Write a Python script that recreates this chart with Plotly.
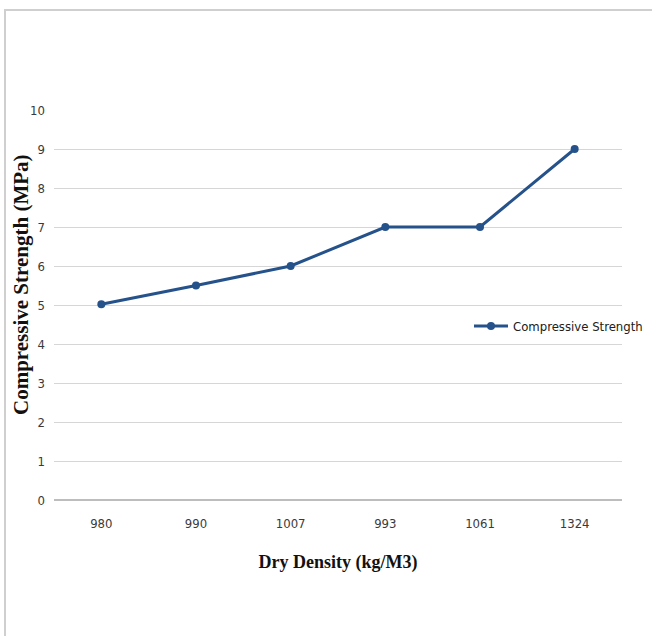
import plotly.graph_objects as go

# Dry density categories (kg/m3) and the measured compressive strength (MPa)
densities = ["980", "990", "1007", "993", "1061", "1324"]
strength = [5.02, 5.5, 6.0, 7.0, 7.0, 9.0]
y_ticks = [0, 1, 2, 3, 4, 5, 6, 7, 8, 9, 10]

line_color = "#25528a"
narrow = "DejaVu Sans Condensed, Open Sans, sans-serif"
serif = "Liberation Serif, Times New Roman, serif"
tick_font = dict(family=narrow, size=13, color="#3a3a3a")

W, H = 652, 636
L, R, T, B = 54, 30, 110, 136
PW, PH = W - L - R, H - T - B

fig = go.Figure()
fig.add_trace(go.Scatter(
    x=densities, y=strength, mode="lines+markers",
    name="Compressive Strength",
    line=dict(color=line_color, width=3),
    marker=dict(color=line_color, size=8, symbol="circle"),
))

fig.update_layout(
    width=W, height=H,
    margin=dict(l=L, r=R, t=T, b=B, autoexpand=False),
    paper_bgcolor="white", plot_bgcolor="white",
    showlegend=True,
    legend=dict(
        xref="container", yref="container",
        x=469 / W, y=1 - 326 / H, xanchor="left", yanchor="middle",
        font=dict(family=narrow, size=13, color="#202020"),
        bgcolor="rgba(0,0,0,0)", itemwidth=34,
    ),
    xaxis=dict(
        type="category", categoryorder="array", categoryarray=densities,
        range=[-0.5, len(densities) - 0.5],
        tickfont=tick_font, showgrid=False, zeroline=False,
        showline=False, ticks="", ticklabelstandoff=14,
        title=dict(text="<b>Dry Density (kg/M3)</b>", standoff=25,
                   font=dict(family=serif, size=18, color="#111111")),
        automargin=False,
    ),
    yaxis=dict(
        range=[0, 10], tickvals=y_ticks, tickfont=tick_font,
        showgrid=True, gridcolor="#d6d6d6", gridwidth=1.3,
        zeroline=True, zerolinecolor="#bdbdbd", zerolinewidth=1.5,
        showline=False, ticks="", ticklabelstandoff=8,
        automargin=False,
    ),
)

# Vertical axis title
fig.add_annotation(
    text="<b>Compressive Strength (MPa)</b>", textangle=-90,
    xref="paper", yref="paper", x=(21 - L) / PW, y=(500 - 285) / PH,
    xanchor="center", yanchor="middle", showarrow=False,
    font=dict(family=serif, size=21, color="#111111"),
)

# Outer chart frame
fig.add_shape(type="rect", xref="paper", yref="paper",
              x0=(5 - L) / PW, x1=(700 - L) / PW,
              y0=(500 - 700) / PH, y1=(500 - 10) / PH,
              line=dict(color="#cfcfcf", width=2), fillcolor="rgba(0,0,0,0)", layer="below")

fig.write_html("out.html")
